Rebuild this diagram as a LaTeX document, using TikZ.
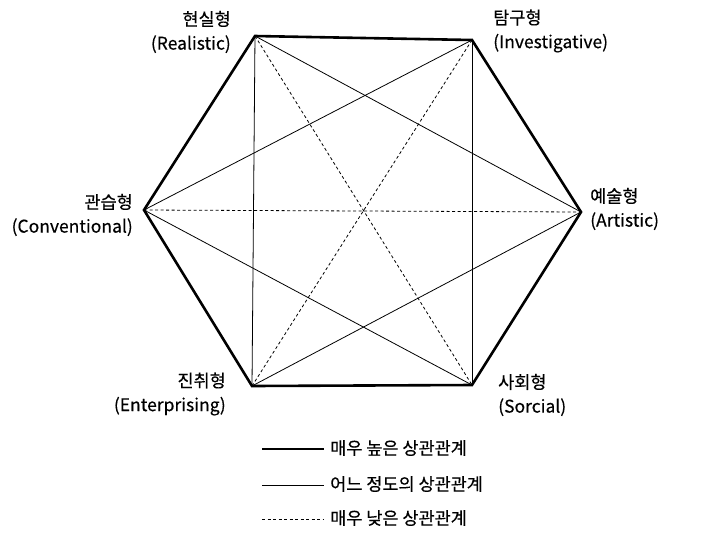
\documentclass[tikz,border=0pt]{standalone}
\usepackage{fontspec}
\setmainfont{Noto Sans CJK KR}[BoldFont=Noto Sans CJK KR, BoldFeatures={FakeBold=0.35}]
\begin{document}
\begin{tikzpicture}[x=1pt,y=-1pt,
  thickedge/.style={line width=2.6pt,line join=miter},
  thinedge/.style={line width=0.8pt},
  dashedge/.style={line width=0.8pt,dash pattern=on 3pt off 2.5pt},
  lbl/.style={inner sep=0pt,font=\fontsize{17.5}{24}\selectfont\bfseries},
  lleft/.style={lbl,anchor=east,align=right},
  lright/.style={lbl,anchor=west,align=left},
  legtext/.style={inner sep=0pt,anchor=west,font=\fontsize{17.5}{21}\selectfont\bfseries}]
\useasboundingbox (0,0) rectangle (701,542);
\fill[white] (0,0) rectangle (701,542);
\coordinate (R) at (255,36);
\coordinate (I) at (472,40);
\coordinate (A) at (581,212);
\coordinate (S) at (472,385);
\coordinate (E) at (252,386);
\coordinate (C) at (144,210);
% thin diagonals
\draw[thinedge] (R) -- (E);
\draw[thinedge] (I) -- (S);
\draw[thinedge] (R) -- (A);
\draw[thinedge] (C) -- (I);
\draw[thinedge] (C) -- (S);
\draw[thinedge] (E) -- (A);
% dashed diagonals
\draw[dashedge] (C) -- (A);
\draw[dashedge] (R) -- (S);
\draw[dashedge] (I) -- (E);
% hexagon
\draw[thickedge] (R) -- (I) -- (A) -- (S) -- (E) -- (C) -- cycle;
% labels
\node[lleft] (lR) at (231,32) {현실형\\(Realistic)};
\node[lright] (lI) at (493,31) {탐구형\\(Investigative)};
\node[lleft] (lC) at (133,215) {관습형\\(Conventional)};
\node[lright] (lA) at (590,209) {예술형\\(Artistic)};
\node[lleft] (lE) at (226,394) {진취형\\(Enterprising)};
\node[lright] (lS) at (498,395) {사회형\\(Sorcial)};
% legend
\coordinate (k1a) at (262,449); \coordinate (k1b) at (324,449);
\coordinate (k2a) at (262,485); \coordinate (k2b) at (324,485);
\coordinate (k3a) at (262,519); \coordinate (k3b) at (324,519);
\draw[thickedge] (k1a) -- (k1b);
\draw[thinedge] (k2a) -- (k2b);
\draw[dashedge] (k3a) -- (k3b);
\node[legtext] (t1) at (330,448) {매우 높은 상관관계};
\node[legtext] (t2) at (330,484) {어느 정도의 상관관계};
\node[legtext] (t3) at (330,518) {매우 낮은 상관관계};
\end{tikzpicture}
\end{document}
